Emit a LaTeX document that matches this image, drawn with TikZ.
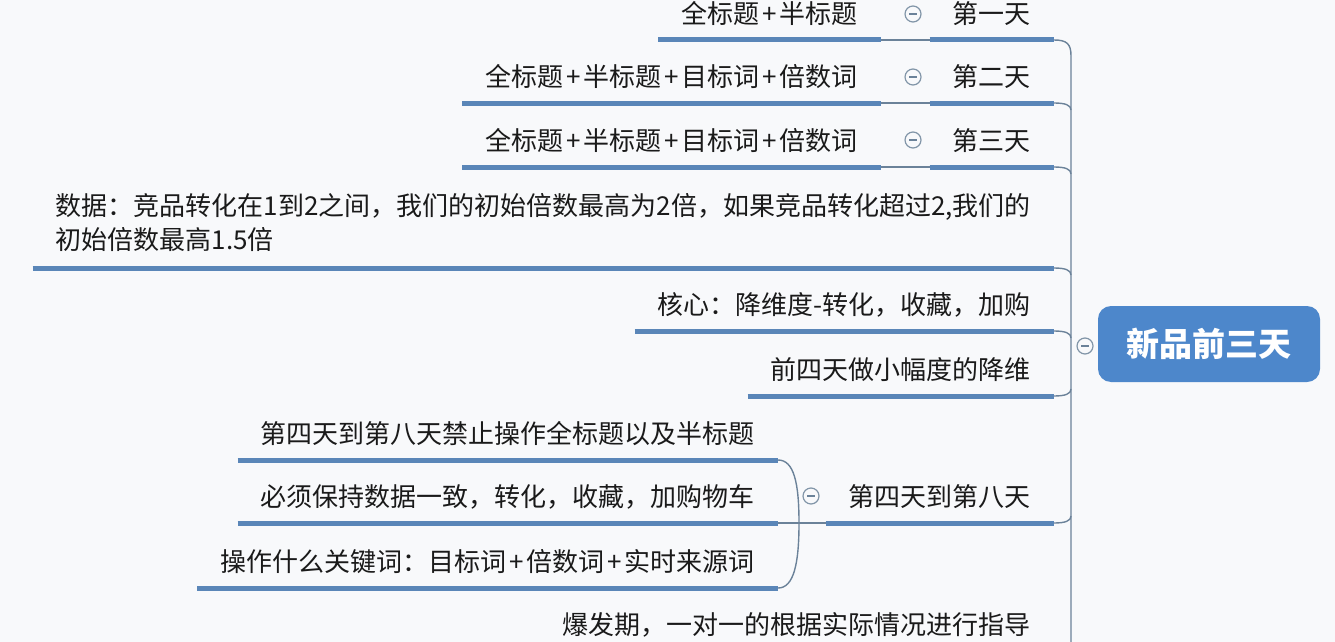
\documentclass[tikz,border=0pt]{standalone}
\usepackage{fontspec}
\setmainfont{Noto Sans CJK SC}
\newcommand\plussign{\hspace{0.11em}+\hspace{0.11em}}
\definecolor{bgc}{HTML}{F8F9FB}
\definecolor{ulc}{HTML}{5A86B8}
\definecolor{cnc}{HTML}{6B8299}
\definecolor{rootc}{HTML}{4D87CB}
\definecolor{txc}{HTML}{1A1A1A}
\begin{document}
\begin{tikzpicture}[x=1pt,y=-1pt,
  topic/.style={rectangle, inner xsep=23pt, inner ysep=0pt, minimum height=52pt,
    anchor=south east, font=\fontsize{26}{34}\selectfont, text=txc},
  uln/.style={draw=ulc, line width=5pt},
  cn/.style={draw=cnc, line width=1.4pt},
  tog/.style={circle, draw=cnc!85, line width=1.2pt, minimum size=16pt, inner sep=0pt, fill=bgc,
    path picture={\draw[cnc, line width=1.2pt] ([xshift=-4pt]path picture bounding box.center) -- ([xshift=4pt]path picture bounding box.center);}},
  rootbox/.style={rectangle, rounded corners=13pt, fill=rootc, text=white,
    minimum width=222pt, minimum height=76pt, font=\fontsize{33}{40}\selectfont\bfseries},
]
\fill[bgc] (0,0) rectangle (1335,642);
\useasboundingbox (0,0) rectangle (1335,642);
\clip (0,0) rectangle (1335,642);

% root
\node[rootbox] (root) at (1209,344) {新品前三天};
\node[tog] (troot) at (1085,346) {};

% spine
\coordinate (spTop) at (1071,56);
\coordinate (spBot) at (1071,642);

% days
\node[topic] (d1) at (1054,40) {第一天};
\node[topic] (c1) at (881,40) {全标题\plussign 半标题};
\node[tog] (t1) at (913,14) {};
\node[topic] (d2) at (1054,103) {第二天};
\node[topic] (c2) at (881,103) {全标题\plussign 半标题\plussign 目标词\plussign 倍数词};
\node[tog] (t2) at (913,77) {};
\node[topic] (d3) at (1054,167) {第三天};
\node[topic] (c3) at (881,167) {全标题\plussign 半标题\plussign 目标词\plussign 倍数词};
\node[tog] (t3) at (913,140) {};

% data
\node[topic, minimum height=90pt, align=left] (data) at (1054,268)
  {数据：竞品转化在1到2之间，我们的初始倍数最高为2倍，如果竞品转化超过2,我们的\\初始倍数最高1.5倍};

\node[topic] (core) at (1054,331) {核心：降维度-转化，收藏，加购};
\node[topic] (pre4) at (1054,396) {前四天做小幅度的降维};

% day 4-8
\node[topic] (d48) at (1054,523) {第四天到第八天};
\node[tog] (t48) at (811,496) {};
\node[topic] (e1) at (778,460) {第四天到第八天禁止操作全标题以及半标题};
\node[topic] (e2) at (778,523) {必须保持数据一致，转化，收藏，加购物车};
\node[topic] (e3) at (778,588) {操作什么关键词：目标词\plussign 倍数词\plussign 实时来源词};
\coordinate (j48) at (799,523);

\node[topic] (burst) at (1054,651) {爆发期，一对一的根据实际情况进行指导};

% underlines
\foreach \n in {d1,c1,d2,c2,d3,c3,data,core,pre4,d48,e1,e2,e3,burst}
  \draw[uln] (\n.south west) -- (\n.south east);

% connectors
\draw[cn] (c1.south east) -- (d1.south west);
\draw[cn] (c2.south east) -- (d2.south west);
\draw[cn] (c3.south east) -- (d3.south west);
\draw[cn] (d1.south east) .. controls +(13,0) and +(0,-12) .. (spTop) -- (spBot);

\coordinate (s2) at (1071,110);
\coordinate (s3) at (1071,174);
\coordinate (s4) at (1071,275);
\coordinate (s5) at (1071,338);
\coordinate (s6) at (1071,389);
\coordinate (s7) at (1071,516);
\coordinate (s8) at (1071,644);
\draw[cn] (d2.south east) .. controls +(11,0) and +(0,-5) .. (s2);
\draw[cn] (d3.south east) .. controls +(11,0) and +(0,-5) .. (s3);
\draw[cn] (data.south east) .. controls +(11,0) and +(0,-5) .. (s4);
\draw[cn] (core.south east) .. controls +(11,0) and +(0,-5) .. (s5);
\draw[cn] (pre4.south east) .. controls +(11,0) and +(0,5) .. (s6);
\draw[cn] (d48.south east) .. controls +(11,0) and +(0,5) .. (s7);
\draw[cn] (burst.south east) .. controls +(11,0) and +(0,5) .. (s8);

\draw[cn] (d48.south west) -- (e2.south east);
\draw[cn] (e1.south east) .. controls +(16,0) and +(0,-40) .. (j48);
\draw[cn] (e3.south east) .. controls +(16,0) and +(0,40) .. (j48);
\end{tikzpicture}
\end{document}
